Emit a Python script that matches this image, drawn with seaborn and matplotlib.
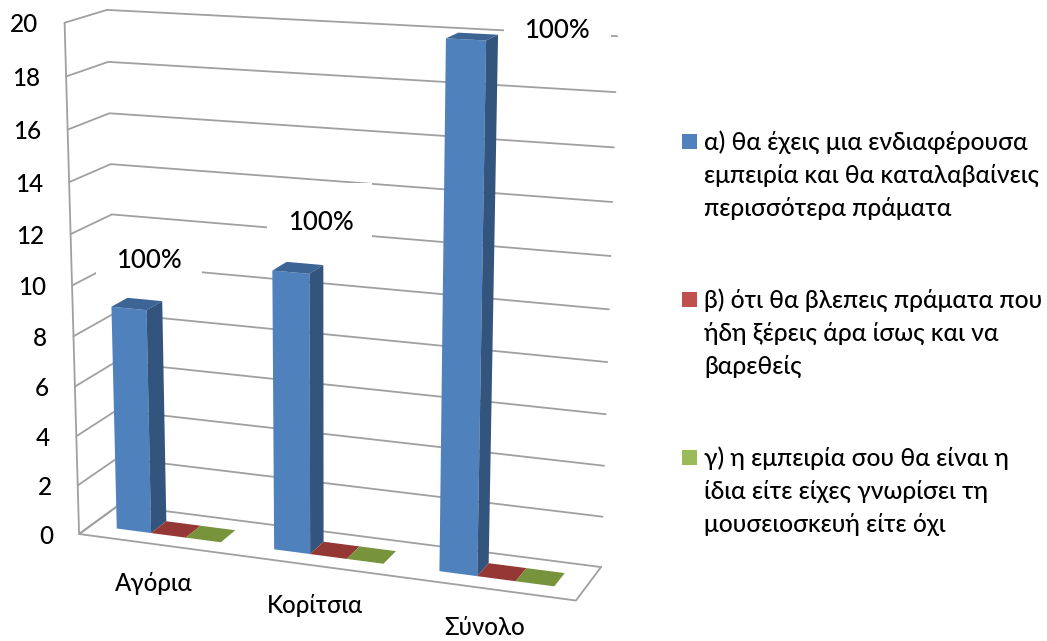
import numpy as np
import pandas as pd
import matplotlib
matplotlib.use("Agg")
import matplotlib.pyplot as plt
from matplotlib.patches import Polygon, Rectangle
from matplotlib.transforms import Transform
import seaborn as sns

# ---- chart data ----
groups = ["Αγόρια", "Κορίτσια", "Σύνολο"]
answer_a = [9, 11, 20]
answer_b = [0, 0, 0]
answer_c = [0, 0, 0]
percent_labels = ["100%", "100%", "100%"]
answer_names = [
    "α) θα έχεις μια ενδιαφέρουσα\nεμπειρία και θα καταλαβαίνεις\nπερισσότερα πράματα",
    "β) ότι θα βλεπεις πράματα που\nήδη ξέρεις άρα ίσως και να\nβαρεθείς",
    "γ) η εμπειρία σου θα είναι η\nίδια είτε είχες γνωρίσει τη\nμουσειοσκευή είτε όχι",
]
value_ticks = list(range(0, 21, 2))

# ---- colours ----
front_colors = ["#4F81BD", "#C0504D", "#9BBB59"]
side_colors = ["#33547D", "#7D3432", "#657B3A"]
top_colors = ["#3C6494", "#953735", "#77933C"]
grid_color = "#A0A0A0"

# ---- layout: 3-D frame of the plot (category, value, depth) -> pixel ----
W, H = 1047, 641
frame_anchors = [
    (0, 20, 0, 63, 23), (0, 18, 0, 65, 77), (0, 16, 0, 68, 130), (0, 14, 0, 68, 182),
    (0, 12, 0, 72, 234), (0, 10, 0, 73, 285), (0, 4, 0, 77, 435), (0, 2, 0, 78, 485),
    (0, 0, 0, 79, 534),
    (0, 20, 1, 107, 10), (0, 18, 1, 108, 62), (0, 16, 1, 109, 113), (0, 14, 1, 112, 164),
    (0, 12, 1, 113, 214), (0, 0, 1, 117, 507),
    (3, 20, 1, 617, 36), (3, 18, 1, 616, 92), (3, 16, 1, 614, 148), (3, 14, 1, 612, 202),
    (3, 6, 1, 605, 414), (3, 4, 1, 605, 466), (3, 2, 1, 603, 516), (3, 0, 1, 600, 566),
    (3, 0, 0, 576, 602),
]
BAR_FRONT, BAR_BACK = 0.3, 0.7

label_xy = [(149, 260), (321, 222), (557, 30)]
label_boxes = [(96, 225, 202, 276), (267, 183, 372, 241), (504, 8, 611, 62)]
legend_square_tops = [134, 292, 450]


def fit_camera(anchors):
    rows, rhs = [], []
    for x, v, d, u, w in anchors:
        rows.append([x, v, d, 1, 0, 0, 0, 0, -u * x, -u * v, -u * d])
        rows.append([0, 0, 0, 0, x, v, d, 1, -w * x, -w * v, -w * d])
        rhs += [u, w]
    m = np.linalg.lstsq(np.array(rows, float), np.array(rhs, float), rcond=None)[0]
    return np.append(m, 1.0).reshape(3, 4)


CAMERA = fit_camera(frame_anchors)


def project(x, v, d):
    p = CAMERA @ np.array([x, v, d, 1.0])
    return p[0] / p[2], p[1] / p[2]


class DepthPlane(Transform):
    """Maps (bar x, value) on a plane of constant depth to pixel coordinates."""
    input_dims = output_dims = 2
    is_affine = False
    has_inverse = False

    def __init__(self, plane_depth):
        super().__init__()
        self.plane_depth = plane_depth

    def transform_non_affine(self, values):
        values = np.asarray(values, float)
        pts = np.column_stack([values[:, 0] + 0.5, values[:, 1],
                               np.full(len(values), self.plane_depth), np.ones(len(values))])
        q = pts @ CAMERA.T
        return q[:, :2] / q[:, 2:3]


sns.set_theme(style="white")
plt.rcParams["font.family"] = ["Lato", "Noto Sans", "DejaVu Sans"]
TEXT = "#000000"
WEIGHT = 500

fig = plt.figure(figsize=(W / 100, H / 100), dpi=100)
ax = fig.add_axes([0, 0, 1, 1])

df = pd.DataFrame({
    "group": groups * 3,
    "answer": ["a"] * 3 + ["b"] * 3 + ["c"] * 3,
    "count": answer_a + answer_b + answer_c,
})
sns.barplot(data=df, x="group", y="count", hue="answer", palette=front_colors,
            width=2 / 3, gap=0, saturation=1, legend=False, ax=ax, zorder=3)
ax.set_xlim(0, W)
ax.set_ylim(H, 0)
ax.set_axis_off()

# gridlines: side wall then back wall at each value level
for v in value_ticks:
    pts = [project(0, v, 0), project(0, v, 1), project(3, v, 1)]
    ax.plot(*zip(*pts), color=grid_color, lw=1.3, zorder=1, solid_joinstyle="miter")
    ax.text(pts[0][0] - 26, pts[0][1] + 2, str(v), ha="right", va="center",
            fontsize=17.5, fontweight=WEIGHT, color=TEXT, zorder=5)

# floor outline and the vertical axis
floor = [project(0, 0, 1), project(0, 0, 0), project(3, 0, 0), project(3, 0, 1)]
ax.plot(*zip(*floor), color=grid_color, lw=1.3, zorder=1)
axis_line = [project(0, 0, 0), project(0, 20, 0)]
ax.plot(*zip(*axis_line), color=grid_color, lw=1.3, zorder=1)

# white panels behind the percentage labels
for x0, y0, x1, y1 in label_boxes:
    ax.add_patch(Rectangle((x0, y0), x1 - x0, y1 - y0, fc="white", ec="none", zorder=2))

# seaborn's bars become the front faces; side and top faces extend them in depth
for series, container in enumerate(ax.containers):
    for bar in container:
        bar.set_transform(DepthPlane(BAR_FRONT) + ax.transData)
        bar.set_linewidth(0)
        x0 = bar.get_x() + 0.5
        x1 = x0 + bar.get_width()
        v = bar.get_height()
        top = [project(x0, v, BAR_FRONT), project(x1, v, BAR_FRONT),
               project(x1, v, BAR_BACK), project(x0, v, BAR_BACK)]
        ax.add_patch(Polygon(top, closed=True, fc=top_colors[series], ec="none", zorder=3))
        if v > 0:
            side = [project(x1, 0, BAR_FRONT), project(x1, v, BAR_FRONT),
                    project(x1, v, BAR_BACK), project(x1, 0, BAR_BACK)]
            ax.add_patch(Polygon(side, closed=True, fc=side_colors[series], ec="none", zorder=3))

# category labels below the floor
for i, name in enumerate(groups):
    px, py = project(i + 0.5, 0, 0)
    ax.text(px - 3, py + 39, name, ha="center", va="center", fontsize=17.3,
            fontweight=WEIGHT, color=TEXT, zorder=5)

for (px, py), label in zip(label_xy, percent_labels):
    ax.text(px, py, label, ha="center", va="center", fontsize=18.5,
            fontweight=WEIGHT, color=TEXT, zorder=5)

# legend
for top, color, name in zip(legend_square_tops, front_colors, answer_names):
    ax.add_patch(Rectangle((682, top), 15, 15, fc=color, ec="none", zorder=5))
    for k, line in enumerate(name.split("\n")):
        ax.text(704, top + 8 + 33 * k, line, ha="left", va="center", fontsize=17.7,
                fontweight=WEIGHT, color=TEXT, zorder=5)

fig.savefig("out.png", dpi=100, facecolor="white")
